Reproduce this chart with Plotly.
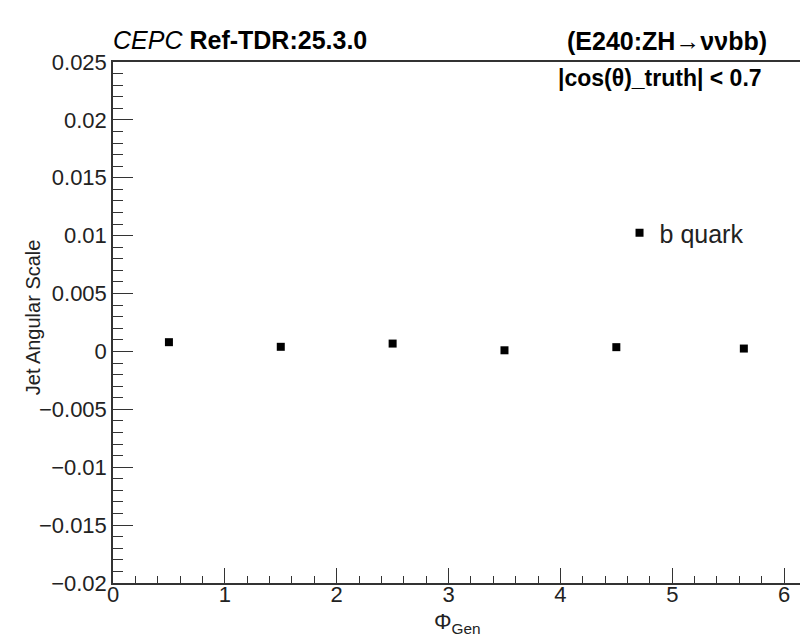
import plotly.graph_objects as go

# ---- data ----
phi_gen = [0.5, 1.5, 2.5, 3.5, 4.5, 5.64]
jet_angular_scale = [0.0008, 0.0004, 0.00068, 0.0001, 0.00037, 0.00025]
series_name = "b quark"

y_tickvals = [0.025, 0.02, 0.015, 0.01, 0.005, 0.0, -0.005, -0.01, -0.015, -0.02]
y_ticktext = ["0.025", "0.02", "0.015", "0.01", "0.005", "0",
              "\u22120.005", "\u22120.01", "\u22120.015", "\u22120.02"]
x_tickvals = [0, 1, 2, 3, 4, 5, 6]
x_ticktext = ["0", "1", "2", "3", "4", "5", "6"]

FONT = "Liberation Sans, Arial, Helvetica, sans-serif"
W, H = 808, 636
L, R, T, B = 105, 12, 54, 61
PW, PH = W - L - R, H - T - B

fig = go.Figure()
fig.add_trace(go.Scatter(
    x=phi_gen, y=jet_angular_scale, mode="markers", name=series_name,
    marker=dict(symbol="square", size=8, color="black"),
))

axis_common = dict(
    showgrid=False, zeroline=False, showline=True, linecolor="#333",
    linewidth=1.5, mirror=True, ticks="inside", tickcolor="#333",
    tickfont=dict(family=FONT, size=22, color="#222"),
)

fig.update_xaxes(
    range=[0, 6.16], tickvals=x_tickvals, ticktext=x_ticktext,
    ticklen=15, tickwidth=1.3, ticklabelstandoff=-9,
    minor=dict(dtick=0.2, ticklen=7, ticks="inside", tickcolor="#333", tickwidth=1.3),
    **axis_common,
)
fig.update_yaxes(
    range=[-0.02, 0.025], tickvals=y_tickvals, ticktext=y_ticktext,
    ticklen=20, tickwidth=1.3,
    minor=dict(dtick=0.001, ticklen=10, ticks="inside", tickcolor="#333", tickwidth=1.3),
    **axis_common,
)

def py(px):  # pixel row -> paper y
    return (H - B - px) / PH

def px_(x):  # pixel col -> paper x
    return (x - L) / PW

annotations = [
    dict(text="<i>CEPC</i> <b>Ref-TDR:25.3.0</b>", x=px_(103), y=py(32),
         xanchor="left", yanchor="middle", font=dict(family=FONT, size=25, color="black")),
    dict(text="<b>(E240:ZH\u2192\u03bd\u03bdbb)</b>", x=px_(763), y=py(33),
         xanchor="right", yanchor="middle", font=dict(family=FONT, size=25, color="black")),
    dict(text="<b>|cos(\u03b8)_truth| < 0.7</b>", x=px_(758), y=py(70),
         xanchor="right", yanchor="middle", font=dict(family=FONT, size=23, color="black")),
    dict(text="Jet Angular Scale", x=px_(25), y=py(309), textangle=-90,
         xanchor="center", yanchor="middle", font=dict(family=FONT, size=20, color="#222")),
    dict(text="\u03a6<sub>Gen</sub>", x=px_(450), y=py(615),
         xanchor="center", yanchor="middle", font=dict(family=FONT, size=22, color="#222")),
]
for a in annotations:
    a.update(xref="paper", yref="paper", showarrow=False)

fig.update_layout(
    width=W, height=H,
    margin=dict(l=L, r=R, t=T, b=B, pad=0),
    paper_bgcolor="white", plot_bgcolor="white",
    annotations=annotations,
    showlegend=True,
    legend=dict(x=px_(613), y=py(202), xanchor="left", yanchor="top",
                bgcolor="rgba(0,0,0,0)", borderwidth=0, itemwidth=30,
                font=dict(family=FONT, size=25, color="#222")),
)

fig.write_html("out.html")
